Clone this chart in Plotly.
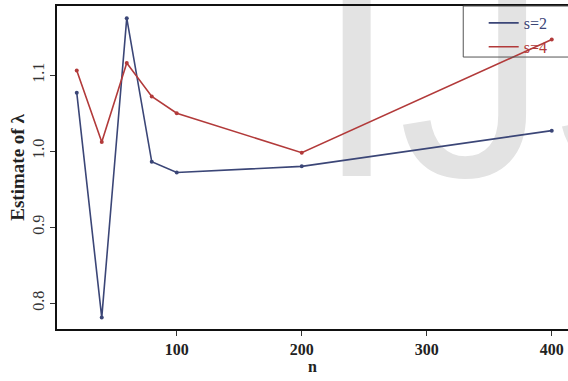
import plotly.graph_objects as go

n_values = [20, 40, 60, 80, 100, 200, 400]
s2_estimates = [1.077, 0.781, 1.175, 0.986, 0.972, 0.980, 1.027]
s4_estimates = [1.106, 1.012, 1.116, 1.072, 1.050, 0.998, 1.147]
x_ticks = [100, 200, 300, 400]
y_ticks = [0.8, 0.9, 1.0, 1.1]
y_tick_labels = ["0.8", "0.9", "1.0", "1.1"]

blue = "#3b4677"
red = "#b23a3a"
serif = "Liberation Serif, Times New Roman, serif"

fig = go.Figure()

# watermark (below everything)
fig.add_shape(type="rect", xref="paper", yref="paper", x0=0.499, x1=1.2, y0=0.362, y1=1.2,
              line=dict(width=0), fillcolor="rgba(0,0,0,0)", layer="below",
              label=dict(text="IJS", font=dict(family="Liberation Sans, Arial, sans-serif",
                                                size=300, color="#e3e3e3"),
                         textposition="bottom left", padding=0))

for name, ys, col in [("s=2", s2_estimates, blue), ("s=4", s4_estimates, red)]:
    fig.add_trace(go.Scatter(x=n_values, y=ys, mode="lines",
                             line=dict(color=col, width=1.6),
                             name=f"<span style='color:{col};font-family:Liberation Serif'>{name}</span>"))
for ys, col in [(s2_estimates, blue), (s4_estimates, red)]:
    fig.add_trace(go.Scatter(x=n_values, y=ys, mode="markers", showlegend=False,
                             marker=dict(color=col, size=4)))

# legend box
fig.add_shape(type="rect", xref="paper", yref="paper", x0=0.795, x1=1.02, y0=0.842, y1=1.0,
              line=dict(color="#555555", width=1), fillcolor="rgba(0,0,0,0)")

fig.update_layout(
    width=568, height=381,
    margin=dict(l=57, r=0, t=6, b=52, autoexpand=False),
    paper_bgcolor="white", plot_bgcolor="rgba(0,0,0,0)",
    font=dict(family=serif, color="#222222"),
    showlegend=True,
    legend=dict(x=0.835, y=1.0, xanchor="left", yanchor="top",
                bgcolor="rgba(0,0,0,0)", borderwidth=0,
                font=dict(family=serif, size=16), tracegroupgap=0,
                itemwidth=30),
    xaxis=dict(range=[4.2, 413], tickvals=x_ticks, automargin=False,
               ticktext=[f"<b>{v}</b>" for v in x_ticks],
               showgrid=False, zeroline=False,
               showline=True, linecolor="#111111", linewidth=2, mirror=True,
               ticks="outside", ticklen=5, tickcolor="#333333",
               tickfont=dict(family=serif, size=16, color="#222222"),
               title=dict(text="<b>n</b>", font=dict(family=serif, size=16), standoff=4)),
    yaxis=dict(range=[0.766, 1.191], tickvals=y_ticks, ticktext=y_tick_labels, automargin=False,
               showgrid=False, zeroline=False,
               showline=True, linecolor="#111111", linewidth=2,
               ticks="outside", ticklen=5, tickcolor="#333333", tickangle=-90,
               tickfont=dict(family=serif, size=16, color="#333333"),
               title=dict(text="<b>Estimate of λ</b>", font=dict(family=serif, size=19), standoff=0)),
)

fig.write_html("out.html", config={"displayModeBar": False},
               post_script="document.body.style.margin='0';")
